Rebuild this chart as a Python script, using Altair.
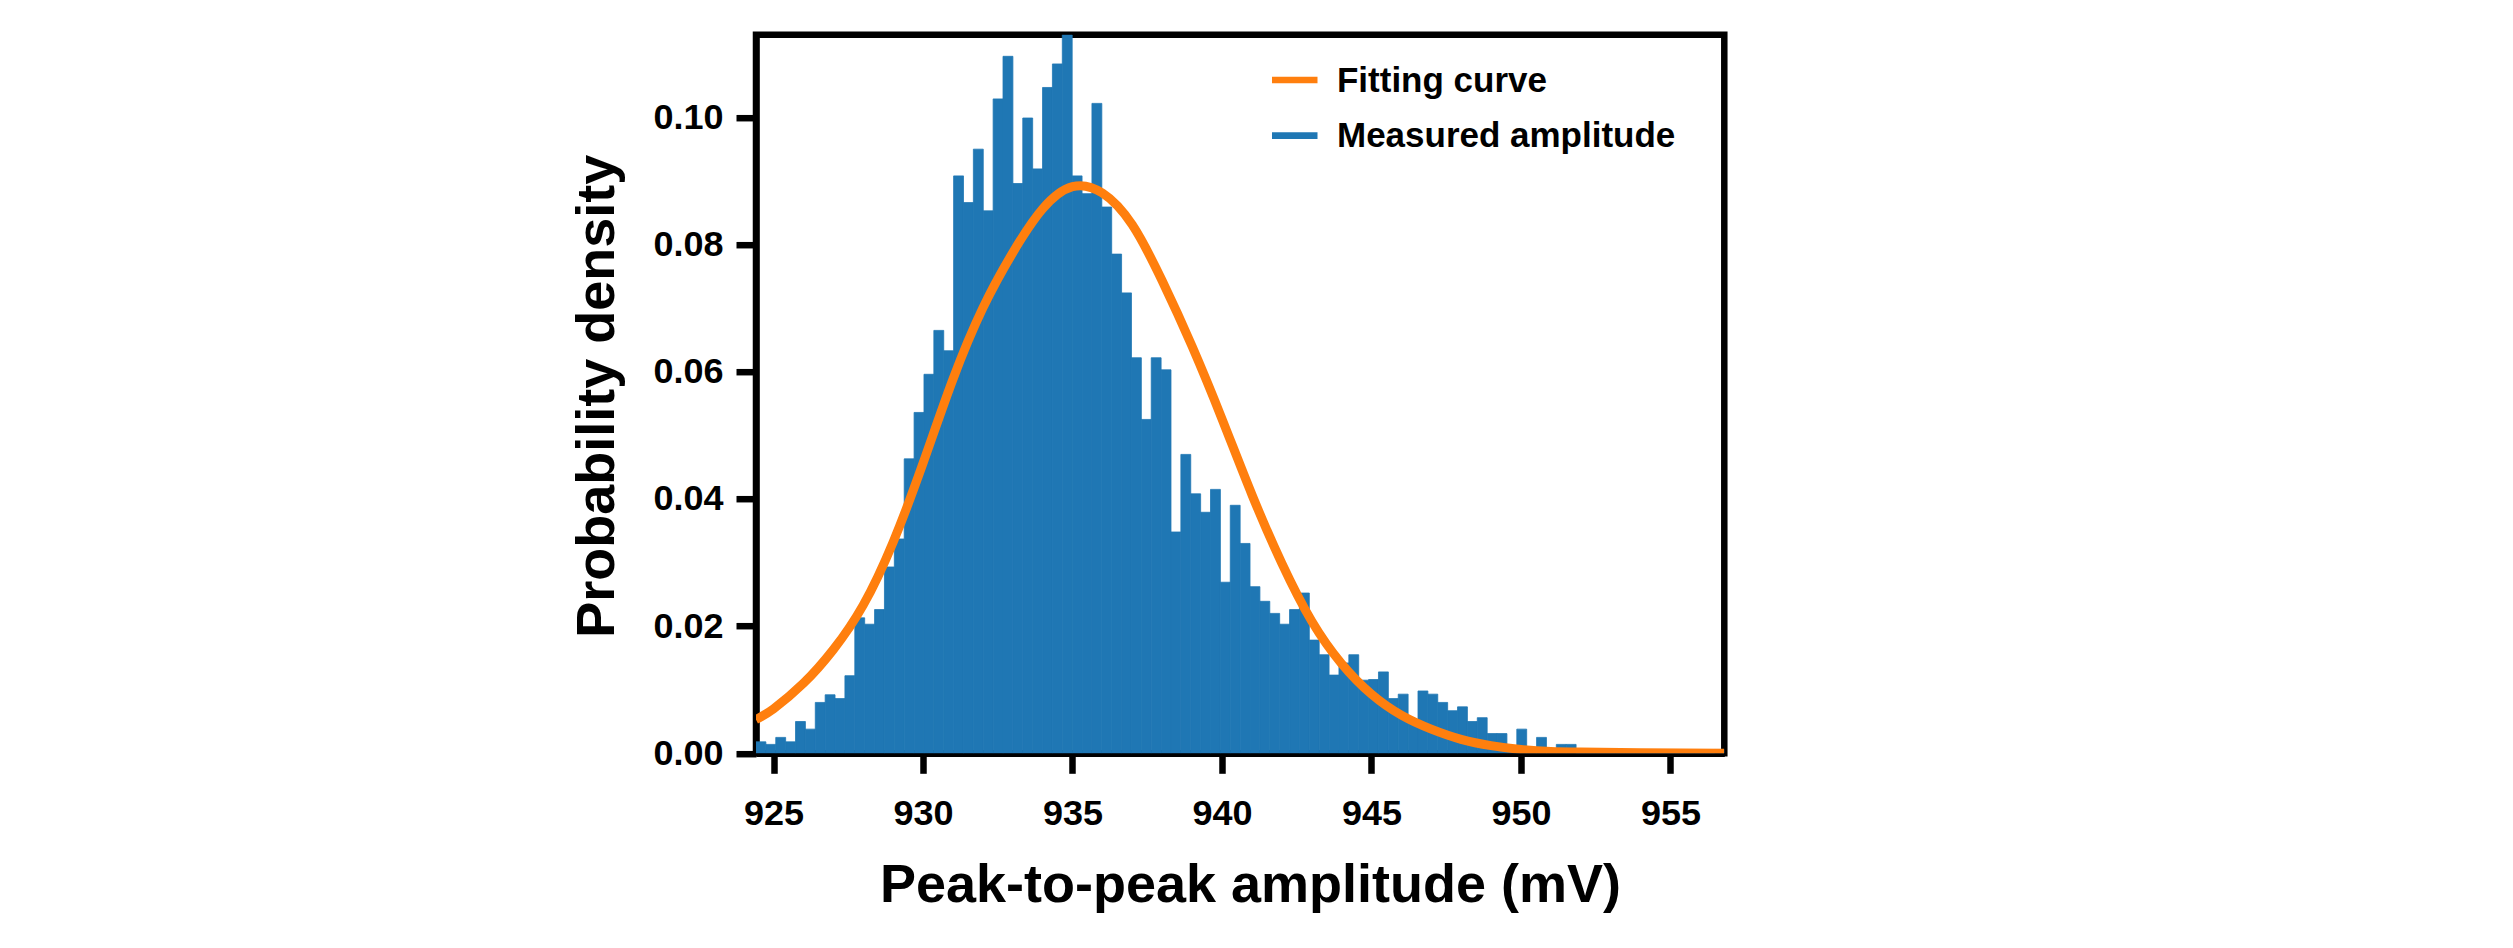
import altair as alt
import pandas as pd

# ---------------- data ----------------
bin_start = 924.414
bin_width = 0.3305
density = [
    0.0018, 0.0014, 0.0025, 0.0018, 0.0050, 0.0038, 0.0080, 0.0092, 0.0086, 0.0122,
    0.0213, 0.0203, 0.0226, 0.0293, 0.0337, 0.0463, 0.0536, 0.0596, 0.0665, 0.0633,
    0.0908, 0.0866, 0.0950, 0.0853, 0.1029, 0.1096, 0.0896, 0.0999, 0.0919, 0.1047,
    0.1084, 0.1130, 0.0908, 0.0880, 0.1022, 0.0859, 0.0785, 0.0724, 0.0622, 0.0525,
    0.0622, 0.0603, 0.0348, 0.0470, 0.0408, 0.0379, 0.0415, 0.0269, 0.0390, 0.0330,
    0.0262, 0.0239, 0.0220, 0.0203, 0.0226, 0.0252, 0.0178, 0.0155, 0.0123, 0.0142,
    0.0155, 0.0115, 0.0116, 0.0128, 0.0086, 0.0093, 0.0050, 0.0098, 0.0093, 0.0080,
    0.0067, 0.0073, 0.0050, 0.0056, 0.0031, 0.0031, 0.0006, 0.0038, 0.0006, 0.0025,
    0.0006, 0.0014, 0.0014, 0.0, 0.0, 0.0, 0.0, 0.0, 0.0, 0.0,
    0.0, 0.0, 0.0, 0.0, 0.0, 0.0, 0.0, 0.0006,
]

curve_x = [924.41, 925, 926, 927, 928, 929, 930, 931, 932, 933, 934, 935, 936,
           937, 938, 939, 940, 941, 942, 943, 944, 945, 946, 947, 948, 949, 950,
           951, 952, 954, 956.80]
curve_y = [0.0053, 0.0070, 0.0110, 0.0163, 0.0233, 0.0332, 0.0456, 0.0588, 0.0700,
           0.0787, 0.0856, 0.0891, 0.0881, 0.0831, 0.0743, 0.0640, 0.0526, 0.0407,
           0.0299, 0.0208, 0.0141, 0.0093, 0.0060, 0.0038, 0.0022, 0.0012, 0.0006,
           0.0003, 0.0002, 0.0001, 0.0000]

x_ticks = [925, 930, 935, 940, 945, 950, 955]
y_ticks = [0.00, 0.02, 0.04, 0.06, 0.08, 0.10]
legend_labels = ["Fitting curve", "Measured amplitude"]

x_domain = [924.414, 956.803]
y_domain = [0.0, 0.113]

BLUE = "#1f77b4"
ORANGE = "#ff7f0e"
FONT = "Liberation Sans"

hist_df = pd.DataFrame({
    "x0": [bin_start + bin_width * k for k in range(len(density))],
    "x1": [bin_start + bin_width * (k + 1) for k in range(len(density))],
    "h": density,
})
curve_df = pd.DataFrame({"x": curve_x, "y": curve_y})

W, H = 968.3, 718.6

x_scale = alt.Scale(domain=x_domain, nice=False, zero=False)
y_scale = alt.Scale(domain=y_domain, nice=False, zero=True)

x_axis = alt.Axis(
    title="Peak-to-peak amplitude (mV)", values=x_ticks, format="d",
    labelPadding=23, titleX=494, titleY=148.4, titleBaseline="alphabetic",
    titleAlign="center",
)
y_axis = alt.Axis(
    title="Probability density", values=y_ticks, format=".2f",
    labelPadding=13, titleX=-142.7, titleY=361, titleAngle=270,
    titleBaseline="alphabetic", titleAlign="center",
)

bars = alt.Chart(hist_df).mark_rect(
    color=BLUE, stroke=BLUE, strokeWidth=0.8, clip=True
).encode(
    x=alt.X("x0:Q", scale=x_scale, axis=x_axis),
    x2="x1:Q",
    y=alt.Y("h:Q", scale=y_scale, axis=y_axis),
    y2=alt.datum(0),
)

line = alt.Chart(curve_df).mark_line(
    color=ORANGE, strokeWidth=9, interpolate="natural", clip=True
).encode(
    x=alt.X("x:Q", scale=x_scale),
    y=alt.Y("y:Q", scale=y_scale),
)

leg_layers = []
leg_colors = [ORANGE, BLUE]
row_y = [45.3, 101.0]
text_y = [57.0, 112.7]
for i, lab in enumerate(legend_labels):
    d = pd.DataFrame({"label": [lab]})
    leg_layers.append(
        alt.Chart(d).mark_rule(color=leg_colors[i], strokeWidth=6.7).encode(
            x=alt.value(516), x2=alt.value(561.5), y=alt.value(row_y[i])
        )
    )
    leg_layers.append(
        alt.Chart(d).mark_text(
            align="left", baseline="alphabetic", font=FONT, fontSize=35,
            fontWeight="bold", color="black"
        ).encode(
            x=alt.value(581), y=alt.value(text_y[i]), text="label:N"
        )
    )

chart = alt.layer(bars, line, *leg_layers).properties(
    width=W, height=H,
    autosize=alt.AutoSizeParams(type="none"),
    padding={"left": 748, "top": 26.7, "right": 770, "bottom": 190},
    background="white",
).configure_view(
    stroke="black", strokeWidth=6.5,
).configure_axis(
    grid=False,
    domainColor="black", domainWidth=6.5,
    tickColor="black", tickWidth=6.5, tickSize=20,
    labelFont=FONT, labelFontWeight="bold", labelFontSize=36, labelColor="black",
    titleFont=FONT, titleFontWeight="bold", titleFontSize=54, titleColor="black",
    labelFlush=False, labelOverlap=False,
)

chart.save("out.html", embed_options={"renderer": "svg", "actions": False})
